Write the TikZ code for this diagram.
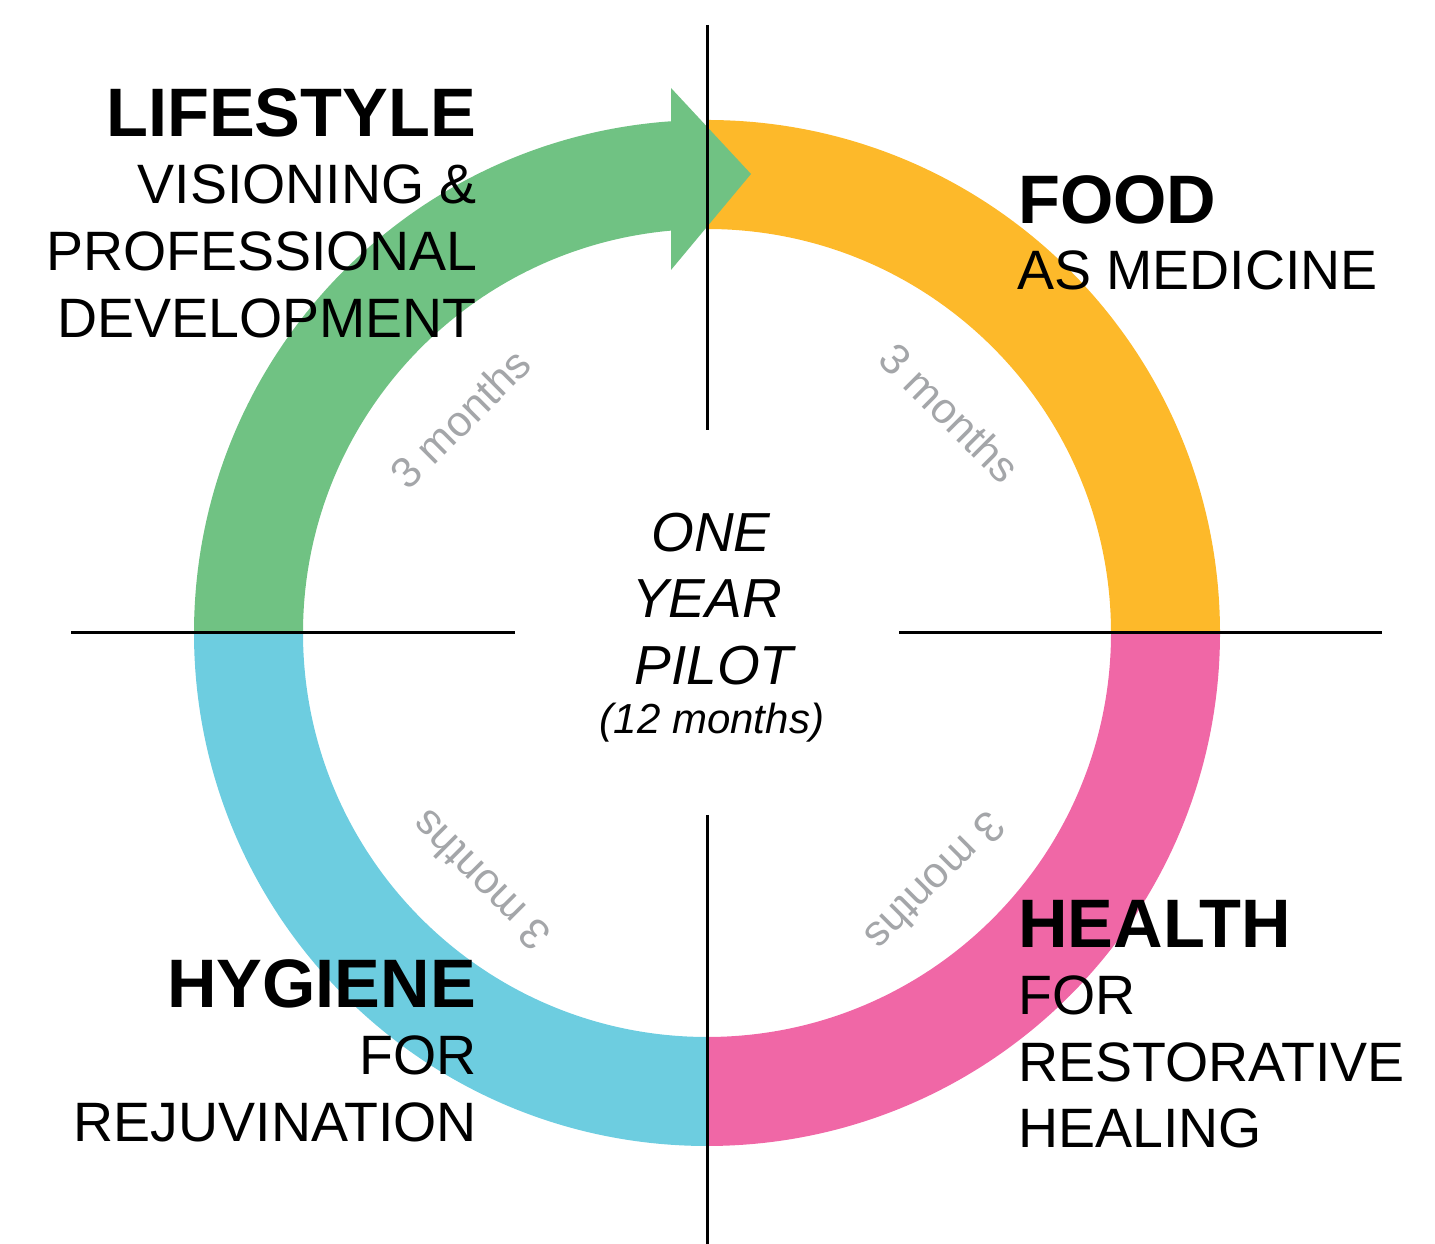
\documentclass[tikz,border=0pt]{standalone}
\usepackage{fontspec}
\setmainfont{Liberation Sans}
\definecolor{cgreen}{HTML}{70C283}
\definecolor{corange}{HTML}{FDB92A}
\definecolor{cpink}{HTML}{F067A6}
\definecolor{ccyan}{HTML}{6DCDE0}
\definecolor{cgray}{HTML}{A4A6A9}
\tikzset{
  head/.style={inner sep=0pt, font=\fontsize{68.6}{68.6}\selectfont\bfseries},
  sub/.style={inner sep=0pt, font=\fontsize{55.5}{55.5}\selectfont},
  centre/.style={inner sep=0pt, font=\fontsize{55}{55}\selectfont\itshape},
  months/.style={inner sep=0pt, text=cgray, font=\fontsize{43}{43}\selectfont},
  axis/.style={line width=3pt, black}
}
\begin{document}
\begin{tikzpicture}[x=1pt,y=1pt]
\useasboundingbox (0,0) rectangle (1435,1244);
\coordinate (C) at (707,611);
% ring segments
\fill[corange] ([shift={(C)}]90:513) arc[start angle=90,end angle=0,radius=513]
  -- ([shift={(C)}]0:404) arc[start angle=0,end angle=90,radius=404] -- cycle;
\fill[cpink] ([shift={(C)}]0:513) arc[start angle=0,end angle=-90,radius=513]
  -- ([shift={(C)}]-90:404) arc[start angle=-90,end angle=0,radius=404] -- cycle;
\fill[ccyan] ([shift={(C)}]-90:513) arc[start angle=-90,end angle=-180,radius=513]
  -- ([shift={(C)}]-180:404) arc[start angle=-180,end angle=-90,radius=404] -- cycle;
\fill[cgreen] ([shift={(C)}]180:513) arc[start angle=180,end angle=94.02,radius=513]
  -- (671,1156) -- (751,1070) -- (671,974)
  -- ([shift={(C)}]95.11:404) arc[start angle=95.11,end angle=180,radius=404] -- cycle;
% axes
\coordinate (vt1) at (707,1219); \coordinate (vt2) at (707,814);
\coordinate (vb1) at (707,429);  \coordinate (vb2) at (707,0);
\coordinate (hl1) at (71,611);   \coordinate (hl2) at (515,611);
\coordinate (hr1) at (899,611);  \coordinate (hr2) at (1382,611);
\draw[axis] (vt1) -- (vt2);
\draw[axis] (vb1) -- (vb2);
\draw[axis] (hl1) -- (hl2);
\draw[axis] (hr1) -- (hr2);
% month labels
\node[months, rotate=45]   (m1) at ([shift={(C)}]139:327) {3 months};
\node[months, rotate=-45]  (m2) at ([shift={(C)}]42.2:328) {3 months};
\node[months, rotate=-135] (m3) at ([shift={(C)}]-47.4:338) {3 months};
\node[months, rotate=135]  (m4) at ([shift={(C)}]-132.4:336) {3 months};
% lifestyle
\node[head, anchor=base east] (l1) at (476,1107) {LIFESTYLE};
\node[sub, anchor=base east]  (l2) at (477,1040) {VISIONING \&};
\node[sub, anchor=base east]  (l3) at (478,973) {PROFESSIONAL};
\node[sub, anchor=base east]  (l4) at (477,906) {DEVELOPMENT};
% food
\node[head, anchor=base west] (f1) at (1018,1020) {FOOD};
\node[sub, anchor=base west]  (f2) at (1017,954) {AS MEDICINE};
% health
\node[head, anchor=base west] (h1) at (1018,296) {HEALTH};
\node[sub, anchor=base west]  (h2) at (1018,229) {FOR};
\node[sub, anchor=base west]  (h3) at (1018,162) {RESTORATIVE};
\node[sub, anchor=base west]  (h4) at (1018,96) {HEALING};
% hygiene
\node[head, anchor=base east] (g1) at (476,236) {HYGIENE};
\node[sub, anchor=base east]  (g2) at (477,169) {FOR};
\node[sub, anchor=base east]  (g3) at (477,102) {REJUVINATION};
% centre
\node[centre, anchor=base] (c1) at (711,692) {ONE};
\node[centre, anchor=base] (c2) at (707,626) {YEAR};
\node[centre, anchor=base] (c3) at (714,559) {PILOT};
\node[inner sep=0pt, anchor=base, font=\fontsize{42}{42}\selectfont\itshape] (c4) at (712,510) {(12 months)};
\end{tikzpicture}
\end{document}
